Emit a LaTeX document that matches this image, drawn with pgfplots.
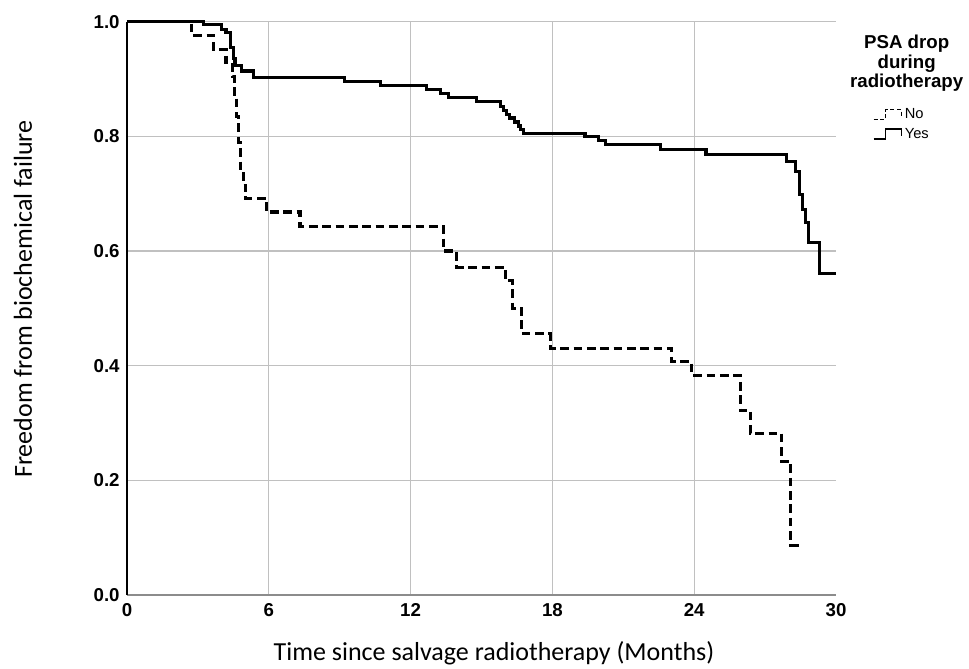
\documentclass[border=0pt]{standalone}
\usepackage{fontspec}
\setmainfont{Liberation Sans}
\newfontfamily\calibri{Carlito}
\usepackage{pgfplots}
\pgfplotsset{compat=1.18}
\definecolor{gridgray}{RGB}{192,192,192}
\definecolor{basegray}{RGB}{140,140,140}

% Kaplan-Meier steps: (event time, survival after event)
\pgfplotstableread{
t S
0 1.000
2.74 0.976
3.65 0.952
4.19 0.929
4.46 0.904
4.55 0.870
4.64 0.834
4.72 0.790
4.80 0.740
4.92 0.715
5.02 0.692
5.91 0.668
7.32 0.643
13.39 0.600
13.95 0.572
16.00 0.549
16.32 0.500
16.70 0.456
17.90 0.430
23.05 0.407
23.90 0.383
25.94 0.322
26.37 0.282
27.70 0.233
28.09 0.087
28.48 0.087
}\nodrop

\pgfplotstableread{
t S
0 1.000
3.23 0.995
4.00 0.986
4.19 0.981
4.39 0.955
4.50 0.936
4.57 0.924
4.85 0.914
5.35 0.903
9.22 0.895
10.71 0.889
12.68 0.882
13.25 0.875
13.60 0.868
14.80 0.860
15.79 0.852
15.93 0.845
16.07 0.838
16.20 0.832
16.40 0.825
16.55 0.818
16.65 0.812
16.77 0.805
19.38 0.799
19.95 0.792
20.23 0.785
22.56 0.777
24.50 0.768
27.90 0.756
28.27 0.738
28.45 0.698
28.59 0.673
28.69 0.649
28.83 0.615
29.30 0.560
30.00 0.560
}\yesdrop

\begin{document}
\begin{tikzpicture}
\useasboundingbox (-95.25pt,-54.75pt) rectangle (631.5pt,446.25pt);
\begin{axis}[
    at={(0pt,0pt)}, anchor=south west,
    scale only axis, width=531.75pt, height=430pt,
    xmin=0, xmax=30, ymin=0, ymax=1,
    clip=false,
    axis x line=bottom, axis y line=left,
    axis line style={-},
    x axis line style={basegray, line width=1.4pt},
    y axis line style={black, line width=0.9pt},
    xtick={6,12,18,24}, extra x ticks={0,30}, extra x tick labels={0,30},
    extra x tick style={grid=none},
    ytick={0.2,0.4,0.6,0.8,1.0},
    yticklabels={0.2,0.4,0.6,0.8,1.0},
    extra y ticks={0}, extra y tick labels={0.0},
    extra y tick style={grid=none},
    major tick length=0pt,
    grid=major, major grid style={gridgray, line width=0.9pt},
    /pgf/number format/assume math mode=true,
    tick label style={font=\fontsize{14}{14}\selectfont\bfseries},
    xticklabel style={yshift=-3pt},
    yticklabel style={xshift=-2pt},
    xlabel={Time since salvage radiotherapy (Months)},
    ylabel={Freedom from biochemical failure},
    label style={font=\calibri\fontsize{19.5}{20}\selectfont},
    xlabel style={at={(axis description cs:0.5176,0)}, anchor=base, yshift=-48.75pt},
    ylabel style={at={(axis description cs:0,0.516)}, anchor=base, yshift=71.25pt},
    legend style={draw=none, fill=none, at={(axis description cs:1.052,0.853)},
        anchor=north west, font=\fontsize{11}{12}\selectfont,
        row sep=1.5pt, inner sep=0pt},
    legend cell align=left,
]
\addplot[const plot, black, line width=2.3pt, dash pattern=on 6.5pt off 3.5pt,
    legend image code/.code={\draw[black, line width=0.8pt, dash pattern=on 3pt off 2pt]
        (0pt,-3.5pt) -- (9pt,-3.5pt) -- (9pt,4pt) -- (21pt,4pt) -- (21pt,-1pt);}]
    table[x=t, y=S] {\nodrop};
\addlegendentry{No}
\addplot[const plot, black, line width=2.3pt,
    legend image code/.code={\draw[black, line width=0.8pt]
        (0pt,-3.5pt) -- (9pt,-3.5pt) -- (9pt,4pt) -- (21pt,4pt) -- (21pt,-1pt);}]
    table[x=t, y=S] {\yesdrop};
\addlegendentry{Yes}
\node[font=\fontsize{14}{14.6}\selectfont\bfseries, align=center, anchor=north, inner sep=0pt]
    at (axis description cs:1.0997,0.977) {PSA drop\\during\\radiotherapy};
\end{axis}
\end{tikzpicture}
\end{document}
